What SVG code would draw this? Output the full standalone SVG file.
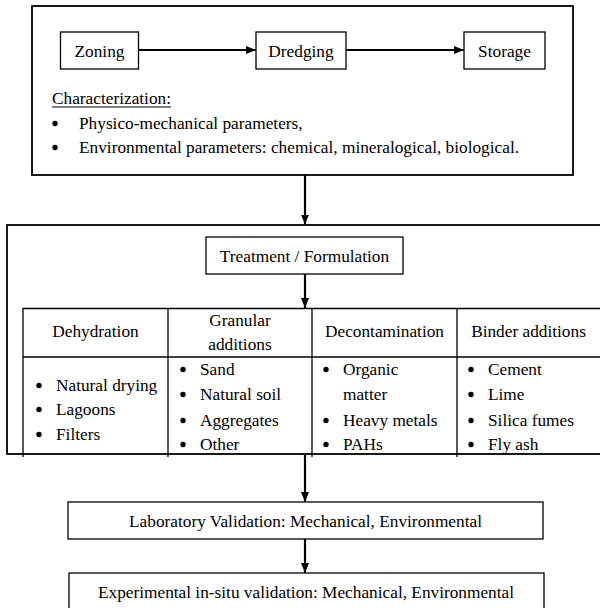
<svg xmlns="http://www.w3.org/2000/svg" width="600" height="608" viewBox="0 0 600 608" font-family="'Liberation Serif', 'DejaVu Serif', 'Times New Roman', serif">
<defs>
<style>
text{font-family:'Liberation Serif','DejaVu Serif','Times New Roman',serif;font-size:17.3px;fill:#000}
.c{text-anchor:middle}
.box{fill:#fff;stroke:#000;stroke-width:1.3}
.frame{fill:none;stroke:#000;stroke-width:1.8}
.grid{fill:none;stroke:#000;stroke-width:1.3}
.conn{fill:none;stroke:#000;stroke-width:2.2}
.dot{fill:#000}
</style>
<marker id="ah" markerWidth="10" markerHeight="10" viewBox="0 0 10 10" refX="10" refY="5" orient="auto" markerUnits="userSpaceOnUse">
<path d="M0,1 L10,5 L0,9 Z" fill="#000"/>
</marker>
<clipPath id="tclip"><rect x="0" y="300" width="600" height="155"/></clipPath>
</defs>
<rect width="600" height="608" fill="#fff"/>

<g id="top-frame">
<rect class="frame" x="32" y="6" width="541" height="169"/>
<text x="52" y="104">Characterization:</text>
<line x1="52" y1="107" x2="171" y2="107" stroke="#000" stroke-width="1"/>
<circle class="dot" cx="55" cy="123.5" r="2.7"/>
<text x="79" y="129">Physico-mechanical parameters,</text>
<circle class="dot" cx="55" cy="147.5" r="2.7"/>
<text x="79" y="153">Environmental parameters: chemical, mineralogical, biological.</text>
</g>

<g id="zoning"><rect class="box" x="60.5" y="32" width="78" height="37"/><text class="c" x="99.5" y="56.5">Zoning</text></g>
<g id="dredging"><rect class="box" x="256" y="32" width="90" height="37"/><text class="c" x="301" y="56.5">Dredging</text></g>
<g id="storage"><rect class="box" x="464" y="32" width="81" height="37"/><text class="c" x="504.5" y="56.5">Storage</text></g>

<g id="treatment-frame">
<rect class="frame" x="7" y="225" width="610" height="229"/>
</g>
<g id="treatment"><rect class="box" x="206" y="237" width="197" height="37"/><text class="c" x="304.5" y="262">Treatment / Formulation</text></g>

<g id="table">
<g clip-path="url(#tclip)">
<text class="c" x="95.5" y="337">Dehydration</text>
<text class="c" x="240" y="326">Granular</text>
<text class="c" x="240" y="350">additions</text>
<text class="c" x="384.5" y="337">Decontamination</text>
<text class="c" x="528.5" y="337">Binder additions</text>

<circle class="dot" cx="39" cy="385.5" r="2.7"/><text x="56" y="391">Natural drying</text>
<circle class="dot" cx="39" cy="409.5" r="2.7"/><text x="56" y="415">Lagoons</text>
<circle class="dot" cx="39" cy="434.5" r="2.7"/><text x="56" y="440">Filters</text>

<circle class="dot" cx="183" cy="369.5" r="2.7"/><text x="200" y="375">Sand</text>
<circle class="dot" cx="183" cy="394.5" r="2.7"/><text x="200" y="400">Natural soil</text>
<circle class="dot" cx="183" cy="420.5" r="2.7"/><text x="200" y="426">Aggregates</text>
<circle class="dot" cx="183" cy="444.5" r="2.7"/><text x="200" y="450">Other</text>

<circle class="dot" cx="326" cy="369.5" r="2.7"/><text x="343" y="375">Organic</text>
<text x="343" y="400">matter</text>
<circle class="dot" cx="326" cy="420.5" r="2.7"/><text x="343" y="426">Heavy metals</text>
<circle class="dot" cx="326" cy="444.5" r="2.7"/><text x="343" y="450">PAHs</text>

<circle class="dot" cx="471" cy="369.5" r="2.7"/><text x="488" y="375">Cement</text>
<circle class="dot" cx="471" cy="394.5" r="2.7"/><text x="488" y="400">Lime</text>
<circle class="dot" cx="471" cy="420.5" r="2.7"/><text x="488" y="426">Silica fumes</text>
<circle class="dot" cx="471" cy="444.5" r="2.7"/><text x="488" y="450">Fly ash</text>
</g>
<path class="grid" d="M23,457 V308.5 H610 M23,357 H610 M168,308 V457 M312,308 V457 M457,308 V457"/>
</g>

<g id="lab"><rect class="box" x="68" y="502" width="475" height="37"/><text class="c" x="305.5" y="527">Laboratory Validation: Mechanical, Environmental</text></g>
<g id="insitu"><rect class="box" x="69" y="573" width="475" height="45"/><text class="c" x="306" y="598">Experimental in-situ validation: Mechanical, Environmental</text></g>

<g id="connectors">
<line class="conn" x1="138.5" y1="50" x2="256" y2="50" marker-end="url(#ah)"/>
<line class="conn" x1="346" y1="50" x2="464" y2="50" marker-end="url(#ah)"/>
<line class="conn" x1="305" y1="175" x2="305" y2="224.5" marker-end="url(#ah)"/>
<line class="conn" x1="305" y1="274" x2="305" y2="308" marker-end="url(#ah)"/>
<line class="conn" x1="305" y1="455" x2="305" y2="502" marker-end="url(#ah)"/>
<line class="conn" x1="305" y1="539" x2="305" y2="573" marker-end="url(#ah)"/>
</g>
</svg>
